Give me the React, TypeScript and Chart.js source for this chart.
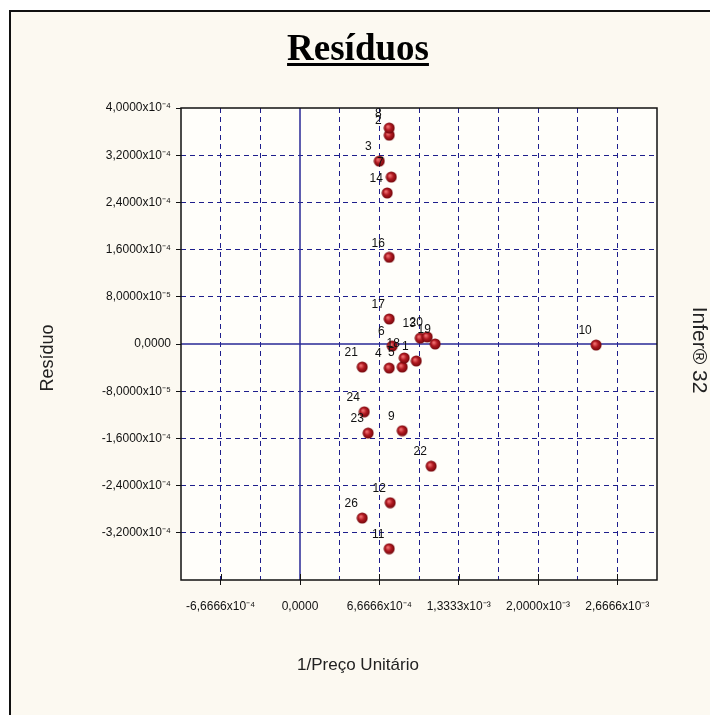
import React, { useEffect, useRef } from 'react';
import { Chart, registerables } from 'chart.js';

Chart.register(...registerables);

// ---- data ----
const pointLabels = ['1', '2', '3', '4', '5', '6', '7', '8', '9', '10', '11', '12', '13', '14', '16', '17', '18', '19', '20', '21', '22', '23', '24', '26'];
const xValues = [9.77e-4, 7.5e-4, 6.66e-4, 7.5e-4, 8.59e-4, 7.75e-4, 7.67e-4, 7.5e-4, 8.59e-4, 2.488e-3, 7.5e-4, 7.58e-4, 1.01e-3, 7.33e-4, 7.5e-4, 7.5e-4, 8.76e-4, 1.136e-3, 1.069e-3, 5.23e-4, 1.102e-3, 5.73e-4, 5.4e-4, 5.23e-4];
const yValues = [-2.88e-5, 3.54e-4, 3.1e-4, -4.07e-5, -3.9e-5, -3.4e-6, 2.83e-4, 3.66e-4, -1.47e-4, -1.7e-6, -3.47e-4, -2.69e-4, 1.0e-5, 2.56e-4, 1.47e-4, 4.24e-5, -2.37e-5, 0, 1.19e-5, -3.9e-5, -2.07e-4, -1.51e-4, -1.15e-4, -2.95e-4];

const xTickValues = [-1e-3, -2e-3 / 3, -1e-3 / 3, 0, 1e-3 / 3, 2e-3 / 3, 1e-3, 4e-3 / 3, 5e-3 / 3, 2e-3, 7e-3 / 3, 8e-3 / 3, 3e-3];
const xTickLabels = ['', '-6,6666x10⁻⁴', '', '0,0000', '', '6,6666x10⁻⁴', '', '1,3333x10⁻³', '', '2,0000x10⁻³', '', '2,6666x10⁻³', ''];
const yTickValues = [-4e-4, -3.2e-4, -2.4e-4, -1.6e-4, -8e-5, 0, 8e-5, 1.6e-4, 2.4e-4, 3.2e-4, 4e-4];
const yTickLabels = ['', '-3,2000x10⁻⁴', '-2,4000x10⁻⁴', '-1,6000x10⁻⁴', '-8,0000x10⁻⁵', '0,0000', '8,0000x10⁻⁵', '1,6000x10⁻⁴', '2,4000x10⁻⁴', '3,2000x10⁻⁴', '4,0000x10⁻⁴'];

const chartTitle = 'Resíduos';
const xTitle = '1/Preço Unitário';
const yTitle = 'Resíduo';
const sideText = 'Infer® 32';

const GRID = '#1e1e8c';

function makeSphere(): HTMLCanvasElement {
  const c = document.createElement('canvas');
  c.width = 12;
  c.height = 12;
  const g = c.getContext('2d')!;
  const grad = g.createRadialGradient(4.5, 4.5, 0.5, 6, 6, 6);
  grad.addColorStop(0, '#f07070');
  grad.addColorStop(0.45, '#b01820');
  grad.addColorStop(1, '#6a0508');
  g.fillStyle = grad;
  g.beginPath();
  g.arc(6, 6, 5.5, 0, Math.PI * 2);
  g.fill();
  return c;
}

const framePlugin = {
  id: 'frame',
  beforeDraw(chart: any) {
    const { ctx, width, height, chartArea: a } = chart;
    ctx.save();
    ctx.fillStyle = '#ffffff';
    ctx.fillRect(0, 0, width, height);
    ctx.fillStyle = '#fcf9f1';
    ctx.fillRect(10, 11, width - 10, height - 11);
    ctx.fillStyle = '#fffefa';
    ctx.fillRect(a.left, a.top, a.right - a.left, a.bottom - a.top);
    ctx.strokeStyle = '#111111';
    ctx.lineWidth = 2;
    ctx.beginPath();
    ctx.moveTo(10, height);
    ctx.lineTo(10, 11);
    ctx.lineTo(width, 11);
    ctx.stroke();
    ctx.restore();
  },
  beforeDatasetsDraw(chart: any) {
    const { ctx, chartArea: a, scales } = chart;
    const x0 = scales.x.getPixelForValue(0);
    const y0 = scales.y.getPixelForValue(0);
    ctx.save();
    ctx.strokeStyle = '#2a2a96';
    ctx.lineWidth = 1.5;
    ctx.beginPath();
    ctx.moveTo(x0, a.top);
    ctx.lineTo(x0, a.bottom);
    ctx.moveTo(a.left, y0);
    ctx.lineTo(a.right, y0);
    ctx.stroke();
    ctx.strokeStyle = '#111111';
    ctx.lineWidth = 1.5;
    ctx.strokeRect(a.left, a.top, a.right - a.left, a.bottom - a.top);
    // major x ticks crossing inside
    ctx.lineWidth = 1;
    ctx.beginPath();
    xTickValues.forEach((v, i) => {
      if (!xTickLabels[i]) return;
      const px = Math.round(scales.x.getPixelForValue(v)) + 0.5;
      ctx.moveTo(px, a.bottom - 6);
      ctx.lineTo(px, a.bottom);
    });
    ctx.stroke();
    ctx.restore();
  },
  afterDatasetsDraw(chart: any) {
    const { ctx, scales } = chart;
    ctx.save();
    ctx.fillStyle = '#111111';
    ctx.font = '12px "Liberation Sans", Arial, sans-serif';
    ctx.textAlign = 'center';
    ctx.textBaseline = 'middle';
    pointLabels.forEach((lab, i) => {
      const px = scales.x.getPixelForValue(xValues[i]);
      const py = scales.y.getPixelForValue(yValues[i]);
      ctx.fillText(lab, px - 11, py - 14);
    });
    ctx.restore();
  },
  afterDraw(chart: any) {
    const { ctx } = chart;
    ctx.save();
    // main title
    ctx.fillStyle = '#000000';
    ctx.font = 'bold 37px "Liberation Serif", "Times New Roman", serif';
    ctx.textAlign = 'center';
    ctx.textBaseline = 'alphabetic';
    const tx = 358;
    ctx.fillText(chartTitle, tx, 60);
    const w = ctx.measureText(chartTitle).width;
    ctx.fillRect(tx - w / 2, 63, w, 3);
    // axis titles
    ctx.fillStyle = '#222222';
    ctx.font = '17px "Liberation Sans", Arial, sans-serif';
    ctx.textBaseline = 'middle';
    ctx.fillText(xTitle, 358, 665);
    ctx.save();
    ctx.font = '18px "Liberation Sans", Arial, sans-serif';
    ctx.translate(48, 358);
    ctx.rotate(-Math.PI / 2);
    ctx.fillText(yTitle, 0, 0);
    ctx.restore();
    ctx.save();
    ctx.font = '21px "Liberation Sans", Arial, sans-serif';
    ctx.translate(699, 350);
    ctx.rotate(Math.PI / 2);
    ctx.fillText(sideText, 0, 0);
    ctx.restore();
    ctx.restore();
  },
};

export default function App() {
  const ref = useRef<HTMLCanvasElement | null>(null);
  useEffect(() => {
    if (!ref.current) return;
    const sphere = makeSphere();
    const near = (a: number, b: number) => Math.abs(a - b) < 1e-9;
    const chart = new Chart(ref.current, {
      type: 'scatter',
      data: {
        datasets: [
          {
            label: 'Resíduos',
            data: xValues.map((x, i) => ({ x, y: yValues[i] })),
            pointStyle: sphere as any,
            pointRadius: 5,
            backgroundColor: '#a8171f',
            borderColor: '#6a0508',
          },
        ],
      },
      options: {
        responsive: false,
        animation: false,
        events: [],
        layout: { padding: { left: 0, top: 108, right: 53, bottom: 0 } },
        plugins: { legend: { display: false }, tooltip: { enabled: false }, title: { display: false } },
        scales: {
          x: {
            type: 'linear',
            min: -1e-3,
            max: 3e-3,
            afterBuildTicks: (s: any) => {
              s.ticks = xTickValues.map((v) => ({ value: v }));
            },
            afterFit: (s: any) => {
              s.height = 135;
            },
            border: { display: false, dash: [5, 4] },
            grid: {
              color: (c: any) => {
                const v = c.tick ? c.tick.value : NaN;
                if (near(v, 0) || near(v, -1e-3) || near(v, 3e-3)) return 'rgba(0,0,0,0)';
                return GRID;
              },
              tickColor: (c: any) => (xTickLabels[c.index] ? '#111111' : 'rgba(0,0,0,0)'),
              tickLength: 5,
              lineWidth: 1,
            },
            ticks: {
              autoSkip: false,
              maxRotation: 0,
              minRotation: 0,
              padding: 14,
              color: '#111111',
              font: { family: '"Liberation Sans", Arial, sans-serif', size: 12 },
              callback: (_v: any, i: number) => xTickLabels[i],
            },
          },
          y: {
            type: 'linear',
            min: -4e-4,
            max: 4e-4,
            afterBuildTicks: (s: any) => {
              s.ticks = yTickValues.map((v) => ({ value: v }));
            },
            afterFit: (s: any) => {
              s.width = 181;
            },
            border: { display: false, dash: [5, 4] },
            grid: {
              color: (c: any) => {
                const v = c.tick ? c.tick.value : NaN;
                if (near(v, 0) || near(v, -4e-4) || near(v, 4e-4)) return 'rgba(0,0,0,0)';
                return GRID;
              },
              tickColor: (c: any) => (yTickLabels[c.index] ? '#111111' : 'rgba(0,0,0,0)'),
              tickLength: 5,
              lineWidth: 1,
            },
            ticks: {
              autoSkip: false,
              padding: 5,
              color: '#111111',
              font: { family: '"Liberation Sans", Arial, sans-serif', size: 12 },
              callback: (_v: any, i: number) => yTickLabels[i],
            },
          },
        },
      },
      plugins: [framePlugin],
    } as any);
    return () => chart.destroy();
  }, []);
  return (
    <canvas
      ref={ref}
      width={710}
      height={715}
      style={{ position: 'absolute', left: 0, top: 0, width: 710, height: 715 }}
    />
  );
}
